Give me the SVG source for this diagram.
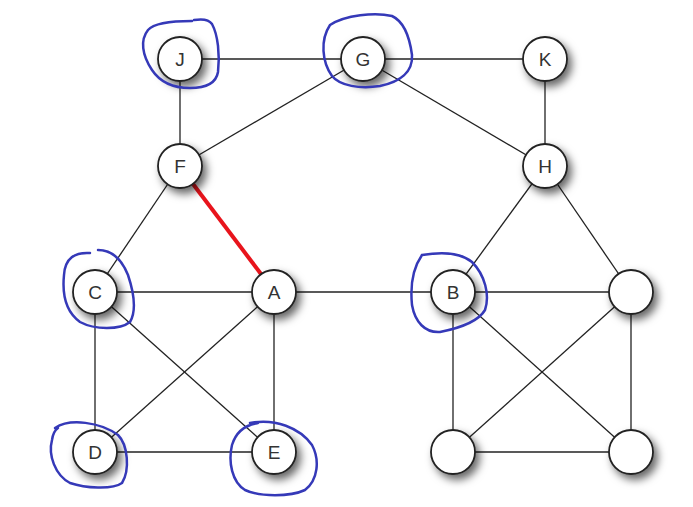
<svg xmlns="http://www.w3.org/2000/svg" width="693" height="507" viewBox="0 0 693 507">
<defs>
<filter id="sh" x="-50%" y="-50%" width="200%" height="200%">
<feDropShadow dx="4" dy="5" stdDeviation="4" flood-color="#000" flood-opacity="0.6"/>
</filter>
</defs>
<style>
.e{stroke:#222;stroke-width:1.3;fill:none}
.r{stroke:#e8141c;stroke-width:4;fill:none}
.n circle{fill:#fff;stroke:#222;stroke-width:1.8;filter:url(#sh)}
.n text{font-family:"Liberation Sans",Arial,sans-serif;font-size:19px;fill:#333;text-anchor:middle;dominant-baseline:central}
.h{stroke:#3539b8;stroke-width:2.5;fill:none;stroke-linecap:round}
</style>
<rect width="693" height="507" fill="#fff"/>
<g id="connectors">
<line class="e" x1="180" y1="59" x2="363" y2="59"/>
<line class="e" x1="363" y1="59" x2="545" y2="59"/>
<line class="e" x1="180" y1="59" x2="180" y2="166"/>
<line class="e" x1="363" y1="59" x2="180" y2="166"/>
<line class="e" x1="363" y1="59" x2="545" y2="166"/>
<line class="e" x1="545" y1="59" x2="545" y2="166"/>
<line class="e" x1="180" y1="166" x2="95" y2="292"/>
<line class="e" x1="95" y1="292" x2="274" y2="292"/>
<line class="e" x1="274" y1="292" x2="453" y2="292"/>
<line class="e" x1="453" y1="292" x2="631" y2="292"/>
<line class="e" x1="545" y1="166" x2="453" y2="292"/>
<line class="e" x1="545" y1="166" x2="631" y2="292"/>
<line class="e" x1="95" y1="292" x2="95" y2="452"/>
<line class="e" x1="95" y1="292" x2="274" y2="452"/>
<line class="e" x1="274" y1="292" x2="95" y2="452"/>
<line class="e" x1="274" y1="292" x2="274" y2="452"/>
<line class="e" x1="95" y1="452" x2="274" y2="452"/>
<line class="e" x1="453" y1="292" x2="453" y2="452"/>
<line class="e" x1="453" y1="292" x2="631" y2="452"/>
<line class="e" x1="631" y1="292" x2="453" y2="452"/>
<line class="e" x1="631" y1="292" x2="631" y2="452"/>
<line class="e" x1="453" y1="452" x2="631" y2="452"/>
<line class="r" x1="193" y1="184" x2="261" y2="274"/>
</g>
<g id="J" class="n"><circle cx="180" cy="59" r="22"/><text x="180" y="59">J</text></g>
<g id="G" class="n"><circle cx="363" cy="59" r="22"/><text x="363" y="59">G</text></g>
<g id="K" class="n"><circle cx="545" cy="59" r="22"/><text x="545" y="59">K</text></g>
<g id="F" class="n"><circle cx="180" cy="166" r="22"/><text x="180" y="166">F</text></g>
<g id="H" class="n"><circle cx="545" cy="166" r="22"/><text x="545" y="166">H</text></g>
<g id="C" class="n"><circle cx="95" cy="292" r="22"/><text x="95" y="292">C</text></g>
<g id="A" class="n"><circle cx="274" cy="292" r="22"/><text x="274" y="292">A</text></g>
<g id="B" class="n"><circle cx="453" cy="292" r="22"/><text x="453" y="292">B</text></g>
<g id="N1" class="n"><circle cx="631" cy="292" r="22"/></g>
<g id="D" class="n"><circle cx="95" cy="452" r="22"/><text x="95" y="452">D</text></g>
<g id="E" class="n"><circle cx="274" cy="452" r="22"/><text x="274" y="452">E</text></g>
<g id="N2" class="n"><circle cx="453" cy="452" r="22"/></g>
<g id="N3" class="n"><circle cx="631" cy="452" r="22"/></g>
<g id="marks">
<path class="h" d="M 192 21 C 175 21 155 22 148 30 C 140 40 142 55 152 70 C 160 82 172 88 190 88 C 205 88 216 84 218 72 C 220 55 218 35 212 24 C 208 18 200 19 194 20"/>
<path class="h" d="M 330 25 C 345 15 375 12 392 16 C 405 22 410 40 412 55 C 413 72 400 82 380 86 C 360 89 340 86 332 76 C 322 62 320 40 330 25 Z"/>
<path class="h" d="M 90 253 C 75 252 65 258 64 275 C 62 295 66 312 80 322 C 95 330 120 330 130 322 C 137 310 133 290 128 275 C 122 260 112 250 98 250"/>
<path class="h" d="M 422 255 C 440 252 460 252 472 262 C 485 275 490 295 485 310 C 478 322 460 328 440 332 C 425 333 415 322 412 305 C 410 285 413 268 422 255 Z"/>
<path class="h" d="M 55 428 C 70 418 100 422 118 435 C 128 445 130 470 122 483 C 112 490 85 488 70 483 C 55 475 48 455 52 440 C 53 433 55 430 58 428"/>
<path class="h" d="M 250 423 C 275 418 300 428 312 445 C 320 460 318 480 305 490 C 290 497 260 497 245 490 C 232 482 228 462 232 445 C 236 432 245 425 258 423"/>
</g>
</svg>
